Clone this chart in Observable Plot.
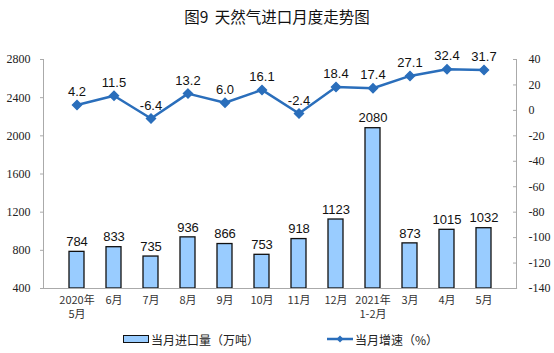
<!DOCTYPE html>
<html><head><meta charset="utf-8">
<script src="https://cdn.jsdelivr.net/npm/d3@7"></script>
<script src="https://cdn.jsdelivr.net/npm/@observablehq/plot@0.6"></script>
<style>
body{margin:0;background:#fff;width:554px;height:353px;overflow:hidden;font-family:"Noto Sans CJK SC",sans-serif;}
#title{height:40px;line-height:32px;text-align:center;font-size:15.5px;color:#111;word-spacing:3px;}
#chart{height:290px;}
#legend{position:relative;height:20px;font-size:12px;color:#222;}
.item{position:absolute;top:0;display:flex;align-items:center;height:18px;}
#chart g[aria-label="y-axis tick label"] text{font-family:"Liberation Serif",serif !important;font-size:12px;}
#chart g[aria-label="x-axis tick label"] text{font-family:"Noto Sans CJK SC",sans-serif !important;font-size:11px;}
</style></head>
<body>
<div id="title">图9 天然气进口月度走势图</div>
<div id="chart"></div>
<div id="legend">
  <div class="item" style="left:123px"><span style="display:inline-block;width:24px;height:6px;background:#99ccff;border:1.5px solid #111;margin-right:2px"></span>当月进口量（万吨）</div>
  <div class="item" style="left:327px"><svg width="28" height="10"><line x1="0" y1="5" x2="26" y2="5" stroke="#2a6ebb" stroke-width="2.5"/><path d="M13,1.5L16.5,5L13,8.5L9.5,5Z" fill="#2a6ebb"/></svg>当月增速（%）</div>
</div>
<script>
const months = ["2020年\n5月","6月","7月","8月","9月","10月","11月","12月","2021年\n1-2月","3月","4月","5月"];
const imports = [784,833,735,936,866,753,918,1123,2080,873,1015,1032];
const growth = [4.2,11.5,-6.4,13.2,6.0,16.1,-2.4,18.4,17.4,27.1,32.4,31.7];
const leftTicks = [400,800,1200,1600,2000,2400,2800];
const rightTicks = [-140,-120,-100,-80,-60,-40,-20,0,20,40];

const L0=400,L1=2800,R0=-140,R1=40;
const toLeft = v => L0 + (v-R0)/(R1-R0)*(L1-L0);
const toRight = v => R0 + (v-L0)/(L1-L0)*(R1-R0);

const data = months.map((m,i)=>({m, imp:imports[i], g:growth[i], gl:toLeft(growth[i])}));

const chart = Plot.plot({
  width:554, height:290,
  marginTop:19, marginBottom:42, marginLeft:43, marginRight:38,
  style:{fontFamily:"Liberation Serif, serif", fontSize:"12px", color:"#222", background:"#fff"},
  x:{domain:months, padding:0.6, label:null},
  y:{domain:[L0,L1], label:null},
  marks:[
    Plot.barY(data,{x:"m", y1:L0, y2:"imp", fill:"#99ccff", stroke:"#111", strokeWidth:1.3}),
    Plot.frame({anchor:"bottom", stroke:"#aaa", strokeWidth:1.2}),
    Plot.frame({anchor:"left", stroke:"#aaa"}),
    Plot.frame({anchor:"right", stroke:"#aaa"}),
    Plot.axisY({ticks:leftTicks, tickFormat:d=>String(d), tickSize:3, tickPadding:10, anchor:"left", stroke:"#aaa", label:null, fill:"#222"}),
    Plot.axisY({ticks:rightTicks.map(toLeft), tickFormat:d=>String(Math.round(toRight(d))), tickSize:-4, tickPadding:16, anchor:"right", stroke:"#aaa", label:null, fill:"#222"}),
    Plot.axisX({tickSize:0, tickPadding:8, label:null, fontSize:11, fill:"#333", tickFormat:d=>d.split("\n")[0]}),
    Plot.axisX({tickSize:0, tickPadding:22, label:null, fontSize:11, fill:"#333", tickFormat:d=>d.split("\n")[1] || ""}),
    Plot.text(data,{x:"m", y:"imp", text:d=>String(d.imp), dy:-10, fontFamily:"Liberation Sans, Arial, sans-serif", fontSize:13, fill:"#111"}),
    Plot.line(data,{x:"m", y:"gl", stroke:"#2a6ebb", strokeWidth:2.5}),
    Plot.dot(data,{x:"m", y:"gl", symbol:"diamond2", r:4, fill:"#2a6ebb", stroke:"#2a6ebb"}),
    Plot.text(data,{x:"m", y:"gl", text:d=>d.g.toFixed(1), dy:-13, fontFamily:"Liberation Sans, Arial, sans-serif", fontSize:13, fill:"#111"})
  ]
});
document.getElementById("chart").appendChild(chart);
</script>
</body></html>
